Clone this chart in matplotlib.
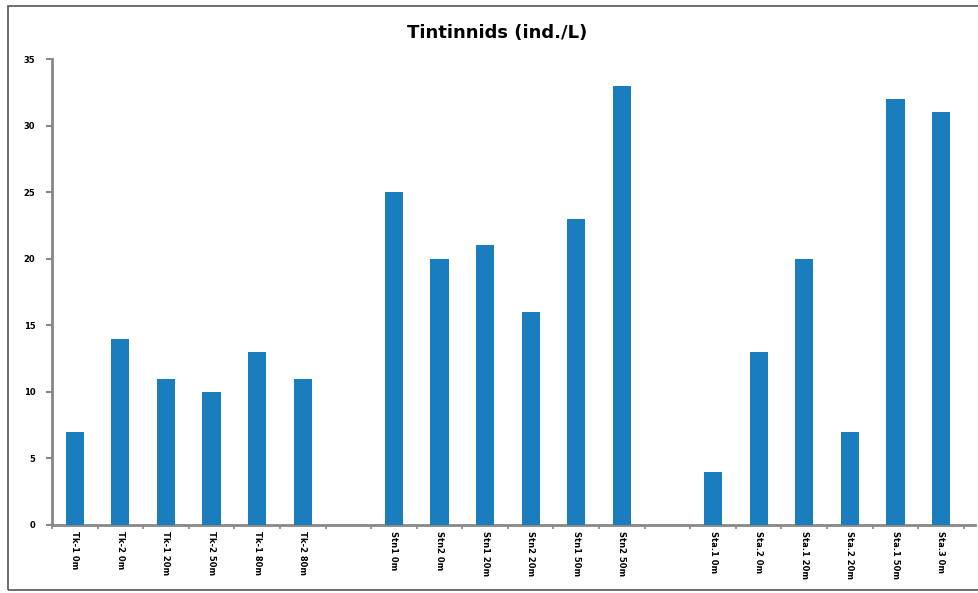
import matplotlib.pyplot as plt
import numpy as np

# sampling sites, three groups of six (labels hard to read in the source)
group1 = ['Tk-1 0m', 'Tk-2 0m', 'Tk-1 20m', 'Tk-2 50m', 'Tk-1 80m', 'Tk-2 80m']
group2 = ['Stn1 0m', 'Stn2 0m', 'Stn1 20m', 'Stn2 20m', 'Stn1 50m', 'Stn2 50m']
group3 = ['Sta.1 0m', 'Sta.2 0m', 'Sta.1 20m', 'Sta.2 20m', 'Sta.1 50m', 'Sta.3 0m']

values1 = [7, 14, 11, 10, 13, 11]
values2 = [25, 20, 21, 16, 23, 33]
values3 = [4, 13, 20, 7, 32, 31]

labels = group1 + [''] + group2 + [''] + group3
values = values1 + [0] + values2 + [0] + values3
pos = np.arange(len(labels))
mask = np.array([l != '' for l in labels])

fig = plt.figure(figsize=(9.79, 5.93), dpi=100)
ax = fig.add_axes([0.0531, 0.1147, 0.943, 0.7858])

ax.bar(pos[mask], np.array(values)[mask], width=0.4, color='#1a7dbd', zorder=3)

ax.set_xlim(-0.5, len(labels) - 0.25)
ax.set_ylim(0, 35)
ax.set_yticks(np.arange(0, 36, 5))
ax.tick_params(axis='y', labelsize=6, length=4, width=1.5, color='#888888', pad=8)
for t in ax.get_yticklabels():
    t.set_fontweight('bold')

ax.set_xticks(pos[mask])
ax.set_xticklabels([l for l in labels if l], rotation=270, fontsize=6,
                   fontweight='bold', va='top', ha='center')
ax.set_xticks(np.arange(-0.5, len(labels), 1), minor=True)
ax.tick_params(axis='x', which='major', length=0, pad=4)
ax.tick_params(axis='x', which='minor', length=3, width=1.2, color='#888888')

for s in ['top', 'right']:
    ax.spines[s].set_visible(False)
for s in ['left', 'bottom']:
    ax.spines[s].set_color('#888888')
    ax.spines[s].set_linewidth(2)

fig.text(0.508, 0.945, 'Tintinnids (ind./L)', ha='center', va='center',
         fontsize=13, fontweight='bold')

# outer chart frame
frame = plt.Rectangle((0.008, 0.005), 1.5, 0.985, transform=fig.transFigure,
                      fill=False, edgecolor='#555555', linewidth=1.2)
fig.patches.append(frame)

fig.savefig('out.png', dpi=100)
